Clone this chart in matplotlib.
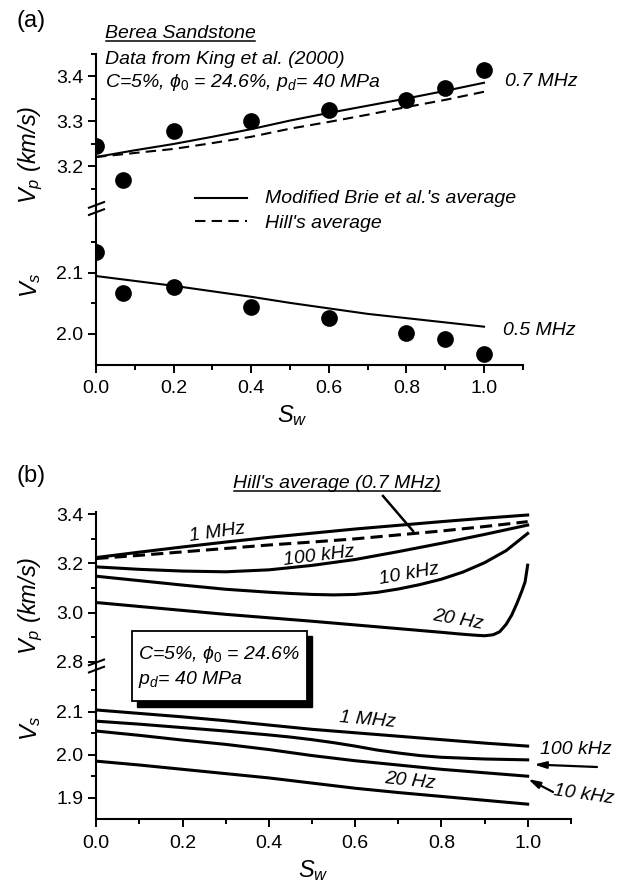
import matplotlib
matplotlib.use("Agg")
import matplotlib.pyplot as plt
from matplotlib.patches import Rectangle

plt.rcParams['font.family'] = ['Liberation Sans', 'DejaVu Sans']
plt.rcParams['mathtext.fontset'] = 'custom'
plt.rcParams['mathtext.rm'] = 'Liberation Sans'
plt.rcParams['mathtext.it'] = 'Liberation Sans:italic'
plt.rcParams['mathtext.fallback'] = 'stixsans'

W, H = 621, 890

# ---------------- (a) Berea sandstone, measured vs. modelled ----------------
sw_meas = [0.0, 0.07, 0.2, 0.4, 0.6, 0.8, 0.9, 1.0]
vp_meas = [3.245, 3.169, 3.278, 3.301, 3.324, 3.346, 3.373, 3.414]
vs_meas = [2.134, 2.067, 2.077, 2.045, 2.026, 2.001, 1.991, 1.967]

sw_model = [0.0, 0.1, 0.2, 0.3, 0.4, 0.5, 0.6, 0.7, 0.8, 0.9, 1.0]
vp_brie = [3.220, 3.235, 3.249, 3.265, 3.282, 3.301, 3.318, 3.334, 3.350, 3.367, 3.385]
vp_hill = [3.220, 3.229, 3.238, 3.251, 3.265, 3.283, 3.298, 3.314, 3.331, 3.347, 3.365]
vs_brie = [2.095, 2.087, 2.079, 2.070, 2.061, 2.051, 2.042, 2.033, 2.026, 2.019, 2.012]

# ---------------- (b) frequency dependence ----------------
sw_b = [0.0, 0.1, 0.2, 0.3, 0.4, 0.5, 0.6, 0.7, 0.8, 0.9, 1.0]
vp_1mhz = [3.224, 3.246, 3.267, 3.287, 3.306, 3.323, 3.340, 3.355, 3.370, 3.384, 3.397]
vp_hill_b = [3.220, 3.233, 3.247, 3.261, 3.275, 3.287, 3.300, 3.316, 3.332, 3.350, 3.370]
vp_100khz = [3.186, 3.176, 3.169, 3.166, 3.174, 3.192, 3.216, 3.248, 3.282, 3.318, 3.356]
sw_10khz = [0.0, 0.1, 0.2, 0.3, 0.4, 0.45, 0.5, 0.55, 0.6, 0.65, 0.7, 0.75,
            0.8, 0.85, 0.9, 0.95, 1.0]
vp_10khz = [3.148, 3.130, 3.112, 3.095, 3.083, 3.078, 3.074, 3.072, 3.074, 3.082,
            3.096, 3.114, 3.136, 3.165, 3.203, 3.252, 3.322]
sw_20hz = [0.0, 0.1, 0.2, 0.3, 0.4, 0.5, 0.6, 0.7, 0.8, 0.85, 0.88, 0.9, 0.92,
           0.935, 0.95, 0.963, 0.975, 0.987, 0.994, 1.0]
vp_20hz = [3.041, 3.025, 3.009, 2.993, 2.979, 2.965, 2.950, 2.935, 2.920, 2.912,
           2.908, 2.906, 2.910, 2.922, 2.952, 2.990, 3.037, 3.090, 3.125, 3.193]

vs_1mhz = [2.104, 2.096, 2.088, 2.079, 2.069, 2.059, 2.051, 2.043, 2.035, 2.027, 2.020]
sw_100khz_s = [0.0, 0.1, 0.2, 0.3, 0.4, 0.45, 0.5, 0.55, 0.6, 0.65, 0.7, 0.75,
               0.8, 0.9, 1.0]
vs_100khz = [2.078, 2.071, 2.063, 2.055, 2.046, 2.041, 2.035, 2.028, 2.020, 2.011,
             2.004, 1.998, 1.994, 1.990, 1.988]
vs_10khz = [2.055, 2.045, 2.034, 2.024, 2.012, 1.998, 1.986, 1.976, 1.966, 1.958, 1.950]
vs_20hz = [1.985, 1.976, 1.966, 1.956, 1.946, 1.934, 1.922, 1.912, 1.903, 1.894, 1.885]

x_major = [0.0, 0.2, 0.4, 0.6, 0.8, 1.0]
x_minor = [0.1, 0.3, 0.5, 0.7, 0.9, 1.1]

fig = plt.figure(figsize=(W / 100, H / 100), dpi=100)


def make_axes(x0, x1, ytop, ybot):
    return fig.add_axes([x0 / W, 1 - ybot / H, (x1 - x0) / W, (ybot - ytop) / H])


def style(ax, ylim, ymajor, yminor, bottom):
    ax.set_xlim(0, 1.1)
    ax.set_ylim(*ylim)
    ax.patch.set_visible(False)
    for s in ('top', 'right'):
        ax.spines[s].set_visible(False)
    ax.spines['left'].set_linewidth(1.5)
    ax.spines['bottom'].set_linewidth(1.5)
    ax.set_yticks(ymajor)
    ax.set_yticks(yminor, minor=True)
    ax.set_yticklabels([f"{v:.1f}" for v in ymajor])
    ax.set_xticks(x_major)
    ax.set_xticks(x_minor, minor=True)
    ax.set_xticklabels([f"{v:.1f}" for v in x_major])
    ax.tick_params(which='major', direction='out', length=5.8, width=1.4,
                   labelsize=14, pad=3.4)
    ax.tick_params(which='minor', direction='out', length=3.6, width=1.4)
    ax.tick_params(axis='x', pad=5.5)
    if not bottom:
        ax.spines['bottom'].set_visible(False)
        ax.tick_params(axis='x', which='both', bottom=False, labelbottom=False)


def dots(ax, x, y):
    # scatter markers are clipped to the plotting area, so edge points show as half dots
    ax.scatter(x, y, s=145, color='k', linewidths=0, zorder=3, clip_on=True)


# panel (a)
ax_a1 = make_axes(96, 522.8, 53.5, 211.5)
style(ax_a1, (3.099, 3.45), [3.2, 3.3, 3.4], [3.15, 3.25, 3.35, 3.45], False)
ax_a2 = make_axes(96, 522.8, 211.5, 364.5)
style(ax_a2, (1.95, 2.2008), [2.0, 2.1], [2.05, 2.15], True)

ax_a1.plot(sw_model, vp_brie, color='k', lw=1.5)
ax_a1.plot(sw_model, vp_hill, color='k', lw=1.5, ls=(0, (5, 3)))
dots(ax_a1, sw_meas, vp_meas)
ax_a2.plot(sw_model, vs_brie, color='k', lw=1.5)
dots(ax_a2, sw_meas, vs_meas)

# panel (b)
ax_b1 = make_axes(96.3, 570.8, 511.8, 668.7)
style(ax_b1, (2.772, 3.41), [2.8, 3.0, 3.2, 3.4], [2.9, 3.1, 3.3], False)
ax_b2 = make_axes(96.3, 570.8, 668.7, 819.2)
style(ax_b2, (1.85, 2.2), [1.9, 2.0, 2.1], [1.95, 2.05, 2.15], True)

lwb = 2.2
ax_b1.plot(sw_b, vp_1mhz, color='k', lw=lwb)
ax_b1.plot(sw_b, vp_hill_b, color='k', lw=lwb, ls=(0, (4, 2)))
ax_b1.plot(sw_b, vp_100khz, color='k', lw=lwb)
ax_b1.plot(sw_10khz, vp_10khz, color='k', lw=lwb)
ax_b1.plot(sw_20hz, vp_20hz, color='k', lw=lwb)
ax_b2.plot(sw_b, vs_1mhz, color='k', lw=lwb)
ax_b2.plot(sw_100khz_s, vs_100khz, color='k', lw=lwb)
ax_b2.plot(sw_b, vs_10khz, color='k', lw=lwb)
ax_b2.plot(sw_b, vs_20hz, color='k', lw=lwb)

# overlay in pixel coordinates for labels, legend, break marks and arrows
ov = fig.add_axes([0, 0, 1, 1], zorder=5)
ov.set_xlim(0, W)
ov.set_ylim(H, 0)
ov.axis('off')

for yc in (208.5, 666.0):
    for off in (-3.6, 3.6):
        ov.plot([88, 105], [yc + off + 3.2, yc + off - 3.2], color='k', lw=1.5,
                solid_capstyle='butt')

ann = dict(fontsize=14, style='italic', color='k')

ov.text(17, 21, "(a)", fontsize=17, va='center', ha='left')
t_berea = ov.text(105, 38.3, "Berea Sandstone", va='baseline', **ann)
ov.text(105, 64.3, "Data from King et al. (2000)", va='baseline', **ann)
ov.text(105, 87.3, r"C=5%, $\phi_0$ = 24.6%, $p_d$= 40 MPa", va='baseline', **ann)
ov.plot([195, 247], [198, 198], color='k', lw=1.5)
ov.plot([195, 247], [221, 221], color='k', lw=1.5, ls=(0, (5, 3)))
ov.text(265, 203.3, "Modified Brie et al.'s average", va='baseline', **ann)
ov.text(265, 227.7, "Hill's average", va='baseline', **ann)
ov.text(505, 86, "0.7 MHz", va='baseline', **ann)
ov.text(503, 335, "0.5 MHz", va='baseline', **ann)

lab = dict(fontsize=17, style='italic', ha='center', va='center')
ov.text(31, 155, r"$V_p$ (km/s)", rotation=90, **lab)
ov.text(31, 285, r"$V_s$", rotation=90, **lab)
ov.text(292, 416, r"$S_w$", **lab)

ov.text(17, 476, "(b)", fontsize=17, va='center', ha='left')
t_hill = ov.text(233.3, 488.3, "Hill's average (0.7 MHz)", va='baseline', **ann)
ov.plot([383, 413], [496, 531], color='k', lw=1.8)

rot = dict(ha='center', va='center', rotation_mode='anchor', **ann)
ov.text(217, 533, "1 MHz", rotation=8, **rot)
ov.text(319, 556, "100 kHz", rotation=7, **rot)
ov.text(409, 574, "10 kHz", rotation=10, **rot)
ov.text(458, 620, "20 Hz", rotation=-10, **rot)

ov.text(367, 720, "1 MHz", rotation=-5, **rot)
ov.text(576, 749, "100 kHz", rotation=0, **rot)
ov.text(584, 795, "10 kHz", rotation=-8, **rot)
ov.text(410, 781, "20 Hz", rotation=-6, **rot)
ov.annotate('', xy=(534, 764.5), xytext=(597, 767),
            arrowprops=dict(arrowstyle='-|>,head_length=0.7,head_width=0.2',
                            color='k', lw=1.6, shrinkA=0, shrinkB=0))
ov.annotate('', xy=(528, 779), xytext=(553, 792),
            arrowprops=dict(arrowstyle='-|>,head_length=0.7,head_width=0.2',
                            color='k', lw=1.6, shrinkA=0, shrinkB=0))

# parameter box with drop shadow
ov.add_patch(Rectangle((137, 636), 175, 70.7, facecolor='k', edgecolor='k', zorder=6))
ov.add_patch(Rectangle((131.7, 630.7), 175.3, 70, facecolor='white', edgecolor='k',
                       lw=1.3, zorder=7))
ov.text(138.3, 659.3, r"C=5%, $\phi_0$ = 24.6%", va='baseline', zorder=8, **ann)
ov.text(138.3, 684, r"$p_d$= 40 MPa", va='baseline', zorder=8, **ann)

ov.text(31, 606, r"$V_p$ (km/s)", rotation=90, **lab)
ov.text(31, 728, r"$V_s$", rotation=90, **lab)
ov.text(313, 871, r"$S_w$", **lab)

# underlines beneath the two headings
fig.canvas.draw()
renderer = fig.canvas.get_renderer()
for t, yb in ((t_berea, 38.3), (t_hill, 488.3)):
    bb = t.get_window_extent(renderer)
    ov.plot([bb.x0 + 1, bb.x1 - 1], [yb + 3, yb + 3], color='k', lw=1.1)

fig.savefig("out.png", dpi=100)
